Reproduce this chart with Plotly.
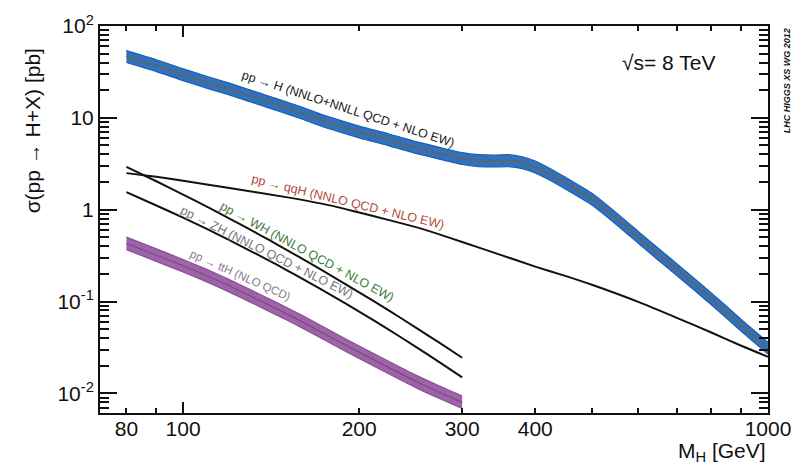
import numpy as np
import plotly.graph_objects as go

# ---------------- data ----------------
m_ggf = [80, 90, 100, 110, 120, 130, 140, 150, 160, 170, 180, 200, 225, 250, 275, 300,
         320, 340, 360, 380, 400, 420, 450, 500, 550, 600, 650, 700, 800, 900, 1000]
s_ggf = [46.5, 37.0, 29.5, 24.3, 20.6, 17.4, 14.9, 12.9, 11.2, 9.7, 8.6, 7.0, 5.75, 4.75, 4.1, 3.6,
         3.42, 3.38, 3.42, 3.25, 2.92, 2.5, 1.95, 1.3, 0.8, 0.50, 0.325, 0.22, 0.107, 0.055, 0.031]
unc_ggf = 0.16

m_vbf = [80, 90, 100, 120, 150, 180, 200, 225, 250, 275, 300, 350, 400, 450, 500, 600, 700, 800, 900, 1000]
s_vbf = [2.5, 2.28, 2.07, 1.72, 1.37, 1.10, 0.93, 0.77, 0.645, 0.535, 0.445, 0.32, 0.24, 0.19, 0.152,
         0.099, 0.066, 0.046, 0.033, 0.025]

m_low = [80, 90, 100, 110, 120, 130, 140, 150, 160, 180, 200, 225, 250, 275, 300]
s_wh = [2.93, 2.04, 1.46, 1.07, 0.80, 0.61, 0.471, 0.368, 0.292, 0.188, 0.126, 0.0796, 0.052, 0.0352, 0.0244]
s_zh = [1.55, 1.11, 0.819, 0.613, 0.466, 0.359, 0.281, 0.2216, 0.1767, 0.1152, 0.0776, 0.0491, 0.0321, 0.0216, 0.0149]
s_tth = [0.43, 0.32, 0.245, 0.19, 0.148, 0.116, 0.092, 0.074, 0.060, 0.040, 0.028, 0.019, 0.0135, 0.0102, 0.008]
unc_tth = 0.17

x_tickvals = [80, 100, 200, 300, 400, 1000]
x_ticktext = ["80", "100", "200", "300", "400", "1000"]
x_minor = [90, 500, 600, 700, 800, 900]
x_long = [100, 1000]
y_tickvals = [0.01, 0.1, 1, 10, 100]
y_ticktext = ["10<sup>-2</sup>", "10<sup>-1</sup>", "1", "10", "10<sup>2</sup>"]
y_minor = [d * k for d in [0.001, 0.01, 0.1, 1, 10] for k in range(2, 10)]

# ---------------- figure ----------------
W, H = 806, 471
L, R, T, B = 100, 38, 20, 58
pw, ph = W - L - R, H - T - B

def px(xp, yp):
    return (xp - L) / pw, (H - B - yp) / ph

FONT = "Liberation Sans, Arial, sans-serif"
fig = go.Figure()

def band(m, s, u, fill, edge, center, width):
    s = np.array(s)
    up = s * (1 + u)
    lo = s / (1 + u)
    fig.add_trace(go.Scatter(x=m, y=up, mode="lines", line=dict(color=edge, width=1.2, shape="spline", smoothing=0.6),
                             showlegend=False, hoverinfo="skip"))
    fig.add_trace(go.Scatter(x=m, y=lo, mode="lines", line=dict(color=edge, width=1.2, shape="spline", smoothing=0.6),
                             fill="tonexty", fillcolor=fill, showlegend=False, hoverinfo="skip"))
    fig.add_trace(go.Scatter(x=m, y=s, mode="lines", line=dict(color=center, width=width, shape="spline", smoothing=0.6),
                             showlegend=False))

band(m_ggf, s_ggf, unc_ggf, "#2f72bd", "#1f5fae", "#55677d", 2.5)
band(m_low, s_tth, unc_tth, "#9e63a8", "#8a4f96", "#7e5088", 1.5)

for m, s in [(m_vbf, s_vbf), (m_low, s_wh), (m_low, s_zh)]:
    fig.add_trace(go.Scatter(x=m, y=s, mode="lines",
                             line=dict(color="#111111", width=2.0, shape="spline", smoothing=0.6),
                             showlegend=False))

# invisible traces on the overlay axes that carry extra ticks
fig.add_trace(go.Scatter(x=[100], y=[1], xaxis="x2", yaxis="y2", mode="markers",
                         marker=dict(opacity=0), showlegend=False, hoverinfo="skip"))
fig.add_trace(go.Scatter(x=[100], y=[1], xaxis="x3", yaxis="y2", mode="markers",
                         marker=dict(opacity=0), showlegend=False, hoverinfo="skip"))

xr = [np.log10(72.1), 3.0]
yr = [-2.214, 2.0]
tick = dict(tickcolor="#111", tickwidth=1.5, ticks="inside", showgrid=False, zeroline=False)

fig.update_layout(
    width=W, height=H, margin=dict(l=L, r=R, t=T, b=B),
    paper_bgcolor="white", plot_bgcolor="white",
    font=dict(family=FONT, color="#111111"),
    xaxis=dict(type="log", range=xr, tickmode="array", tickvals=x_tickvals, ticktext=x_ticktext,
               ticklen=5, showline=True, linecolor="#111", linewidth=2, mirror="ticks",
               tickfont=dict(size=21, family=FONT), ticklabelstandoff=-4, **tick),
    xaxis2=dict(type="log", range=xr, overlaying="x", side="bottom", tickmode="array",
                tickvals=x_long, showticklabels=False, ticklen=11, showline=False,
                mirror="ticks", **tick),
    xaxis3=dict(type="log", range=xr, overlaying="x", side="bottom", tickmode="array",
                tickvals=x_minor, showticklabels=False, ticklen=5, showline=False,
                mirror="ticks", **tick),
    yaxis=dict(type="log", range=yr, tickmode="array", tickvals=y_tickvals, ticktext=y_ticktext,
               ticklen=17, showline=True, linecolor="#111", linewidth=2, mirror="ticks",
               tickfont=dict(size=21, family=FONT), **tick),
    yaxis2=dict(type="log", range=yr, overlaying="y", side="left", tickmode="array",
                tickvals=y_minor, showticklabels=False, ticklen=9, showline=False,
                mirror="ticks", **tick),
)

ann = []
def text(xp, yp, t, size, color="#111", angle=0, xanchor="center", yanchor="middle"):
    x, y = px(xp, yp)
    ann.append(dict(x=x, y=y, xref="paper", yref="paper", text=t, showarrow=False,
                    textangle=angle, xanchor=xanchor, yanchor=yanchor,
                    font=dict(size=size, color=color, family=FONT)))

text(32, 127, "σ(pp → H+X) [pb]", 21, angle=-90)
text(768, 453, "M<sub>H</sub> [GeV]", 21, xanchor="right")
text(668, 57, "√s= 8 TeV", 21)
text(787, 76, "<b><i>LHC HIGGS XS WG 2012</i></b>", 9, angle=-90)
text(348, 104, "pp → H (NNLO+NNLL QCD + NLO EW)", 12.5, "#1a1a1a", 18)
text(348, 199, "pp → qqH (NNLO QCD + NLO EW)", 12.5, "#b5473a", 13.6)
text(307, 250, "pp → WH (NNLO QCD + NLO EW)", 12.5, "#3a7a35", 28.5)
text(266, 250, "pp → ZH (NNLO QCD + NLO EW)", 12.5, "#777777", 26.6)
text(240, 273, "pp → ttH (NLO QCD)", 11.5, "#8a7890", 24)
fig.update_layout(annotations=ann)

fig.write_html("out.html")
